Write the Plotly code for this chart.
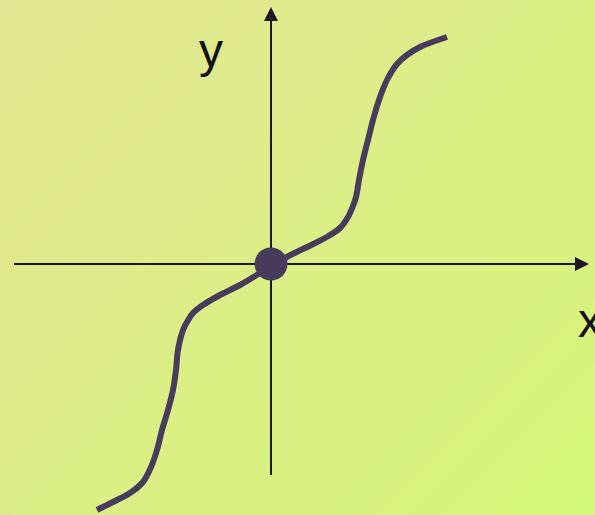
import plotly.graph_objects as go

# curve (units: px offsets from the origin dot)
curve_x = [-174, -158, -141, -128, -120, -114, -109, -103, -98, -95, -93, -88, -84, -78,
           -68, -51, -31, 14, 34, 54, 69, 77, 82, 85, 88, 92, 97, 102, 108, 116, 126,
           136, 149, 176]
curve_y = [-246, -238, -229, -218, -203, -186, -166, -146, -126, -106, -86, -66, -58, -49,
           -41, -31, -21, 6, 16, 26, 36, 47, 58, 67, 84, 104, 124, 144, 164, 184, 200,
           209, 217, 227]
point_x = [0]
point_y = [0]

x_range = [-271, 324]
y_range = [-251, 264]

ink = "#1c1826"
curve_color = "#483c5c"

fig = go.Figure()

# diagonal background gradient (yellowish top-left -> lime bottom-right)
fig.add_trace(go.Heatmap(
    x=x_range,
    y=y_range,
    z=[[x_range[0] - y_range[0], x_range[1] - y_range[0]],
       [x_range[0] - y_range[1], x_range[1] - y_range[1]]],
    zsmooth="best",
    colorscale=[[0.0, "#e2e592"], [0.5, "#dcee86"], [1.0, "#d3f779"]],
    showscale=False,
    hoverinfo="skip"
))

# the two axis lines, drawn under the curve and the dot
fig.add_trace(go.Scatter(x=[-257, 310], y=[0, 0], mode="lines",
                         line=dict(color=ink, width=2), hoverinfo="skip"))
fig.add_trace(go.Scatter(x=[0, 0], y=[-211, 250], mode="lines",
                         line=dict(color=ink, width=2), hoverinfo="skip"))

fig.add_trace(go.Scatter(
    x=curve_x, y=curve_y,
    mode="lines",
    line=dict(color=curve_color, width=6, shape="spline", smoothing=1.0),
    hoverinfo="skip"
))

fig.add_trace(go.Scatter(
    x=point_x, y=point_y,
    mode="markers",
    marker=dict(color=curve_color, size=33, line=dict(width=0)),
    hoverinfo="skip"
))

# arrow heads at the ends of the axes
fig.add_annotation(x=318, y=0, ax=290, ay=0, xref="x", yref="y", axref="x", ayref="y",
                   text="", showarrow=True, arrowhead=2, arrowsize=1.4, arrowwidth=2,
                   arrowcolor=ink)
fig.add_annotation(x=0, y=257, ax=0, ay=230, xref="x", yref="y", axref="x", ayref="y",
                   text="", showarrow=True, arrowhead=2, arrowsize=1.4, arrowwidth=2,
                   arrowcolor=ink)

fig.add_annotation(x=-60, y=214, xref="x", yref="y", text="y", showarrow=False,
                   font=dict(family="Liberation Sans, Arial", size=48, color="#111111"))
fig.add_annotation(x=305, y=-56, xref="x", yref="y", text="x", showarrow=False,
                   xanchor="left",
                   font=dict(family="Liberation Sans, Arial", size=48, color="#111111"))

fig.update_layout(
    width=595,
    height=515,
    margin=dict(l=0, r=0, t=0, b=0),
    paper_bgcolor="#dcee86",
    plot_bgcolor="rgba(0,0,0,0)",
    showlegend=False,
    xaxis=dict(range=x_range, visible=False, fixedrange=True),
    yaxis=dict(range=y_range, visible=False, fixedrange=True),
)

fig.write_html("out.html", config=dict(displayModeBar=False),
               post_script="document.body.style.margin='0';document.body.style.overflow='hidden';")
